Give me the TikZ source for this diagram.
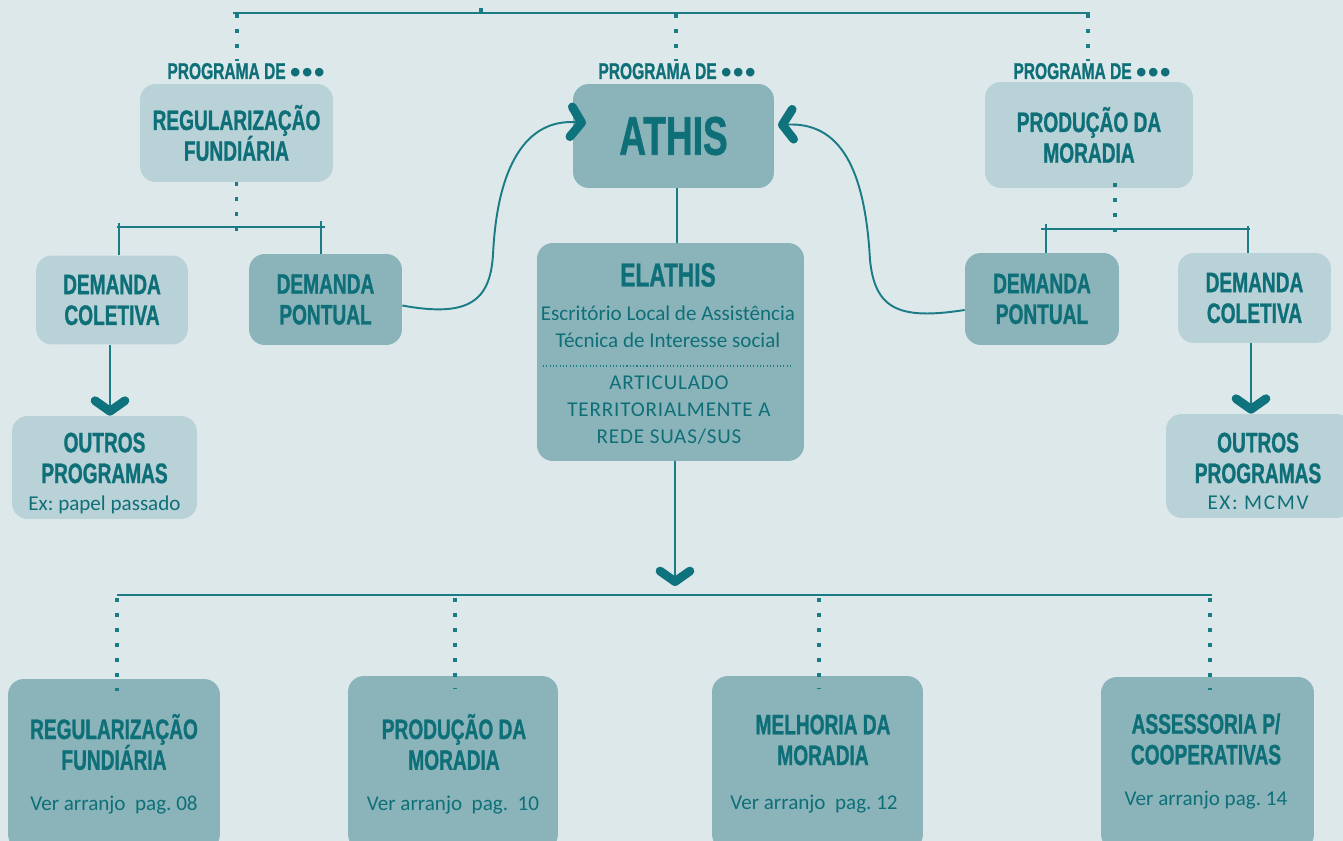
\documentclass[tikz,border=0pt]{standalone}
\usepackage{fontspec}
\setmainfont{Carlito}
\newfontfamily\headfont[FakeStretch=0.68,FakeBold=1]{Liberation Sans}
\newfontfamily\dotfont{Liberation Sans}
\usetikzlibrary{arrows.meta}
\frenchspacing

\definecolor{bgblue}{HTML}{DDE8EA}
\definecolor{boxlight}{HTML}{B9D2D7}
\definecolor{boxdark}{HTML}{8AB4BA}
\definecolor{ink}{HTML}{0F6F78}
\definecolor{wirecol}{HTML}{1B7C86}
\definecolor{chevcol}{HTML}{0E737C}

\newcommand{\progdots}{\raisebox{-2pt}{\dotfont\bfseries\fontsize{17}{17}\selectfont •\kern0.9pt•\kern0.9pt•}}

\tikzset{
  lightbox/.style={fill=boxlight, rounded corners=9pt, inner sep=0pt},
  darkbox/.style={fill=boxdark, rounded corners=9pt, inner sep=0pt},
  head/.style={text=ink, align=center, font=\headfont\bfseries\fontsize{16}{17.5}\selectfont},
  prog/.style={text=ink, inner sep=1pt, font=\headfont\bfseries\fontsize{13}{13}\selectfont},
  body/.style={text=ink, align=center, font=\fontsize{12}{15.3}\selectfont},
  wire/.style={draw=wirecol, line width=1.1pt},
  dotline/.style={draw=wirecol, line width=2.2pt, dash pattern=on 2.2pt off 6.3pt},
  chev/.style={-{Straight Barb[length=6pt, width=17pt, line width=5pt, round, color=chevcol]}}
}

\begin{document}
\begin{tikzpicture}[x=0.02cm, y=-0.02cm]
  \useasboundingbox (0,0) rectangle (1343,841);
  \fill[bgblue] (0,0) rectangle (1343,841);
  \clip (0,0) rectangle (1343,841);

  \node[prog, anchor=base] (pgl) at (246,79) {PROGRAMA DE \progdots};
  \node[prog, anchor=base] (pgc) at (677,79) {PROGRAMA DE \progdots};
  \node[prog, anchor=base] (pgr) at (1092,79) {PROGRAMA DE \progdots};

  \node[lightbox, head, minimum width=3.86cm, minimum height=1.96cm] (regtop) at (236.5,133) {REGULARIZAÇÃO\\FUNDIÁRIA};
  \node[darkbox, head, minimum width=4.02cm, minimum height=2.08cm, font=\headfont\bfseries\fontsize{31}{32}\selectfont] (athis) at (673.5,136) {ATHIS};
  \node[lightbox, head, minimum width=4.16cm, minimum height=2.12cm] (prodtop) at (1089,135) {PRODUÇÃO DA\\MORADIA};

  \node[lightbox, head, minimum width=3.04cm, minimum height=1.78cm] (dcl) at (112,300) {DEMANDA\\COLETIVA};
  \node[darkbox, head, minimum width=3.06cm, minimum height=1.82cm] (dpl) at (325.5,299.5) {DEMANDA\\PONTUAL};
  \node[darkbox, head, minimum width=3.08cm, minimum height=1.84cm] (dpr) at (1042,299) {DEMANDA\\PONTUAL};
  \node[lightbox, head, minimum width=3.06cm, minimum height=1.8cm] (dcr) at (1254.5,298) {DEMANDA\\COLETIVA};

  \node[lightbox, minimum width=3.7cm, minimum height=2.06cm] (outl) at (104.5,467.5) {};
  \node[head] (outlt) at (104.5,458) {OUTROS\\PROGRAMAS};
  \node[body] (outls) at (104.5,505) {Ex: papel passado};
  \node[lightbox, minimum width=3.72cm, minimum height=2.08cm] (outr) at (1259,466) {};
  \node[head] (outrt) at (1258,458) {OUTROS\\PROGRAMAS};
  \node[body, font=\addfontfeature{LetterSpace=8}\fontsize{12}{15.3}\selectfont] (outrs) at (1258,503) {EX: MCMV};

  \node[darkbox, minimum width=5.34cm, minimum height=4.36cm] (elathis) at (670.5,352) {};
  \node[head, font=\headfont\bfseries\fontsize{19}{20}\selectfont] (elt) at (668,275) {ELATHIS};
  \node[body] (eld) at (668,327) {Escritório Local de Assistência\\Técnica de Interesse social};
  \node[body, font=\addfontfeature{LetterSpace=4}\fontsize{12}{15.3}\selectfont] (elr) at (669,410) {ARTICULADO\\TERRITORIALMENTE A\\REDE SUAS/SUS};
  \draw[wirecol, line width=0.6pt, dash pattern=on 0.6pt off 1.3pt] (543,366) -- (793,366);

  \node[darkbox, minimum width=4.24cm, minimum height=3.42cm] (b1) at (114,764.5) {};
  \node[darkbox, minimum width=4.2cm, minimum height=3.48cm] (b2) at (453,763) {};
  \node[darkbox, minimum width=4.22cm, minimum height=3.48cm] (b3) at (817.5,763) {};
  \node[darkbox, minimum width=4.26cm, minimum height=3.46cm] (b4) at (1207.5,763.5) {};
  \node[head] (b1t) at (114,742) {REGULARIZAÇÃO\\FUNDIÁRIA};
  \node[body] (b1v) at (114,805) {Ver arranjo\ \ pag. 08};
  \node[head] (b2t) at (454,742) {PRODUÇÃO DA\\MORADIA};
  \node[body] (b2v) at (453,805) {Ver arranjo\ \ pag.\ \ 10};
  \node[head] (b3t) at (823,740) {MELHORIA DA\\MORADIA};
  \node[body] (b3v) at (814,804) {Ver arranjo\ \ pag. 12};
  \node[head] (b4t) at (1206,739) {ASSESSORIA P/\\COOPERATIVAS};
  \node[body] (b4v) at (1206,800) {Ver arranjo pag. 14};

  \draw[wire] (233,13) -- (1090,13);
  \draw[wirecol, line width=2.2pt] (481,8) -- (481,13);
  \foreach \x/\p in {237/pgl,676/pgc,1088/pgr} \draw[dotline] (\x,14) -- (\x,0 |- \p.north);

  \draw[dotline] (regtop.south) -- (regtop.south |- 0,232);
  \draw[wire] (117,227) -- (325,227);
  \draw[wire] (119,223) -- (119,0 |- dcl.north);
  \draw[wire] (321,221) -- (321,0 |- dpl.north);
  \draw[wire, chev] (110,0 |- dcl.south) -- (110,0 |- outl.north);

  \draw[dotline] (1115,0 |- prodtop.south) ++(0,-5) -- (1115,233);
  \draw[wire] (1041,229) -- (1250,229);
  \draw[wire] (1046,224) -- (1046,0 |- dpr.north);
  \draw[wire] (1248,226) -- (1248,0 |- dcr.north);
  \draw[wire, chev] (1251,0 |- dcr.south) -- (1251,0 |- outr.north);

  \coordinate (athl) at (586,123);
  \coordinate (athr) at (778,125);
  \draw[wire, chev] ([yshift=-0.12cm]dpl.east) .. controls (470,318) and (490,300) .. (493,255) .. controls (497,168) and (525,118) .. (athl);
  \draw[wire, chev] ([yshift=-0.22cm]dpr.west) .. controls (900,320) and (875,310) .. (870,260) .. controls (865,168) and (840,122) .. (athr);

  \draw[wire] (677,0 |- athis.south) -- (677,0 |- elathis.north);
  \coordinate (busmid) at (675,586);
  \draw[wire, chev] (675,0 |- elathis.south) -- (busmid);
  \draw[wire] (117,595) -- (1212,595);
  \foreach \x/\b in {117/b1,455/b2,819/b3,1210/b4} \draw[dotline] (\x,598) -- (\x,0 |- \b.north) -- ++(0,13);
\end{tikzpicture}
\end{document}
